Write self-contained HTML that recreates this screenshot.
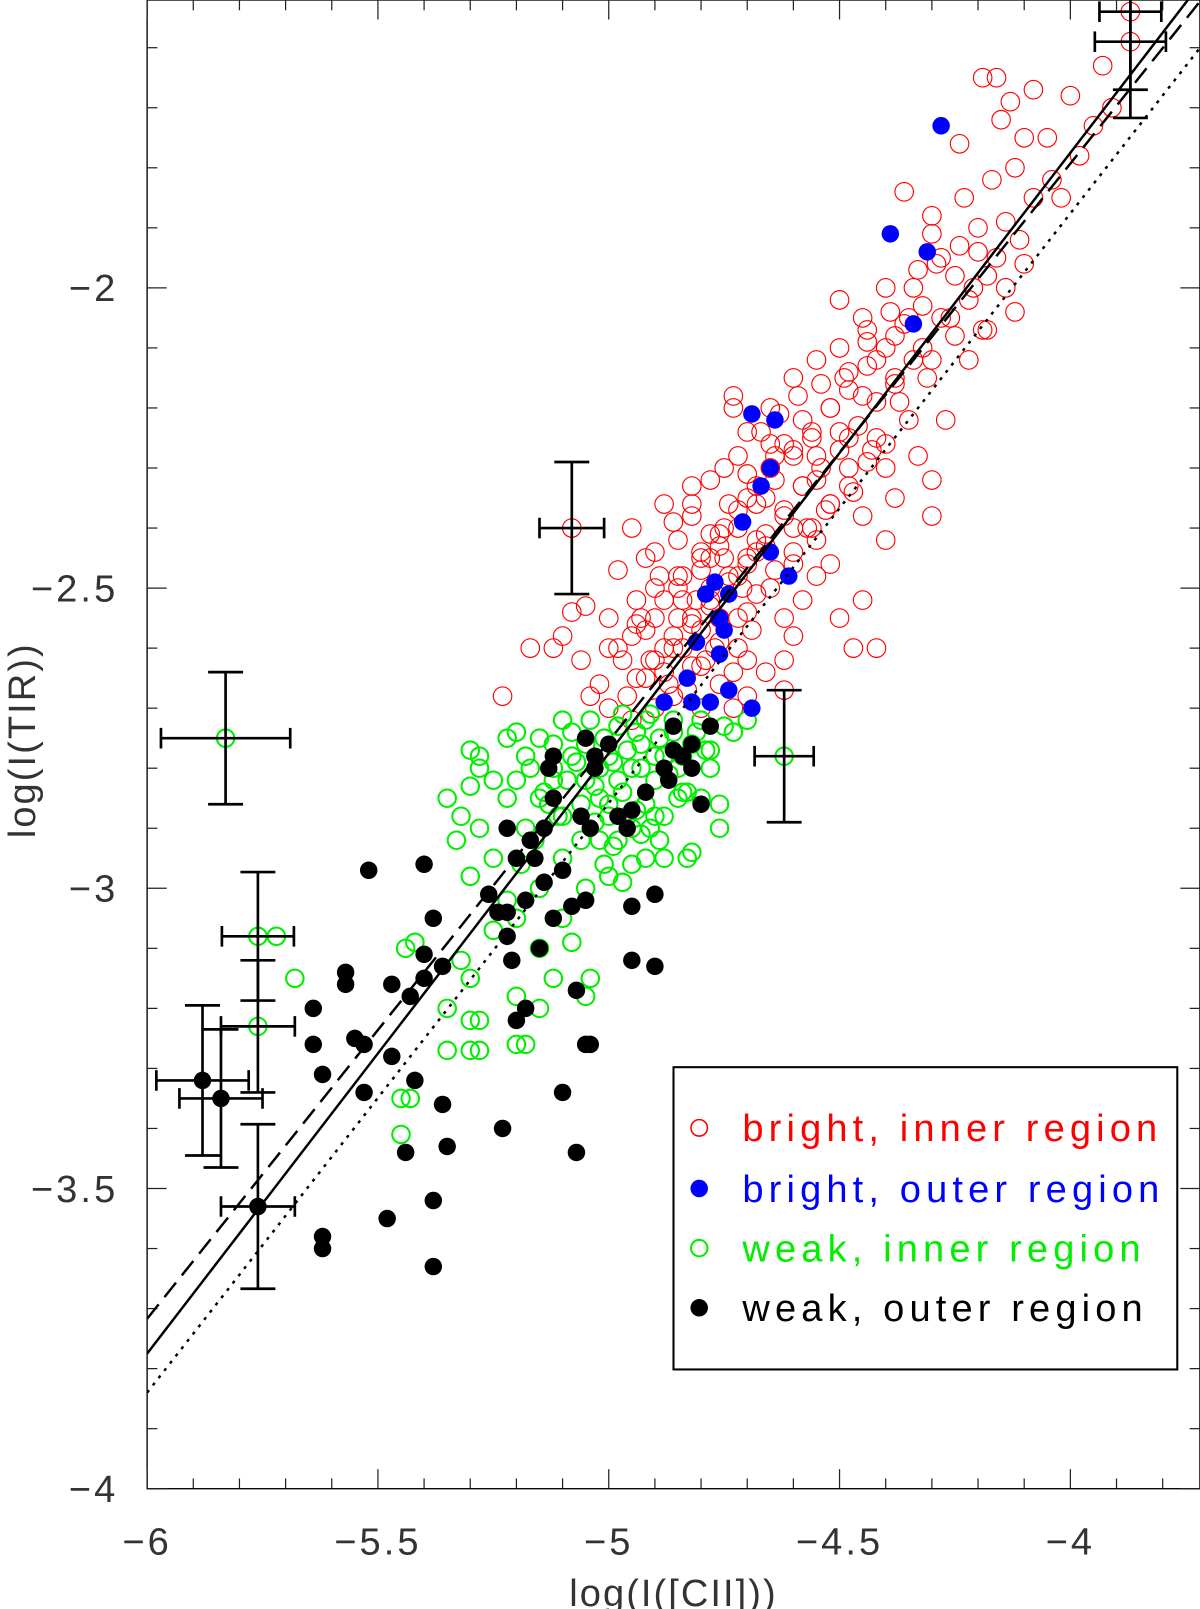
<!DOCTYPE html>
<html><head><meta charset="utf-8"><style>
html,body{margin:0;padding:0;background:#fff;}
svg{display:block;}
text{font-family:"Liberation Sans",sans-serif;font-weight:normal;}
</style></head><body>
<svg id="chart" width="1200" height="1609" viewBox="0 0 1167 1565" xmlns="http://www.w3.org/2000/svg">
<defs><clipPath id="plotclip"><rect x="143" y="0" width="1024" height="1448"/></clipPath></defs>
<rect x="143" y="0" width="1024" height="1448" fill="none" stroke="#000" stroke-width="1.3"/>
<g id="ticks"></g>
<g id="ticklabels" font-size="37" fill="#333" letter-spacing="3"></g>
<text x="655" y="1562" font-size="37" text-anchor="middle" fill="#333" letter-spacing="2">log(I([CII]))</text>
<text x="0" y="0" font-size="37" text-anchor="middle" fill="#333" letter-spacing="2" transform="translate(34,720) rotate(-90)">log(I(TIR))</text>
<g clip-path="url(#plotclip)">
<g id="marks"></g>
<g id="fits"></g>
<g id="errs"></g>
</g>
<g letter-spacing="5">
<rect x="655" y="1038" width="490" height="294" fill="#fff" stroke="#000" stroke-width="2"/>
<circle cx="680" cy="1097" r="8" fill="none" stroke="#f00" stroke-width="1.5"/>
<text x="722" y="1110" font-size="37" fill="#f00">bright, inner region</text>
<circle cx="680" cy="1156" r="8.5" fill="#00f"/>
<text x="722" y="1169" font-size="37" fill="#00f">bright, outer region</text>
<circle cx="680" cy="1214" r="8" fill="none" stroke="#0e0" stroke-width="2"/>
<text x="722" y="1227" font-size="37" fill="#0e0">weak, inner region</text>
<circle cx="680" cy="1272" r="8.5" fill="#000"/>
<text x="722" y="1285" font-size="37" fill="#000">weak, outer region</text>
</g>
</svg>
<script>
const xTicks=[-6,-5.5,-5,-4.5,-4];
const xTickLabels=["\u22126","\u22125.5","\u22125","\u22124.5","\u22124"];
const yTicks=[-2,-2.5,-3,-3.5,-4];
const yTickLabels=["\u22122","\u22122.5","\u22123","\u22123.5","\u22124"];
const redX=[-3.87,-3.87,-3.93,-3.91,-4.0,-4.08,-4.19,-4.16,-4.13,-4.05,-4.12,-4.17,-4.23,-4.3,-4.36,-4.2,-4.14,-4.1,-4.2,-4.25,-4.3,-4.22,-4.28,-4.33,-4.4,-4.45,-4.5,-4.38,-4.32,-4.25,-4.18,-4.12,-4.42,-4.48,-4.55,-4.6,-4.52,-4.45,-4.38,-4.3,-4.35,-4.42,-4.5,-4.58,-4.65,-4.7,-4.62,-4.55,-4.48,-4.4,-4.33,-4.3,-4.38,-4.45,-4.52,-4.58,-4.65,-4.72,-4.78,-4.7,-4.62,-4.55,-4.6,-4.68,-4.75,-4.82,-4.85,-4.78,-4.72,-4.65,-4.58,-4.5,-4.45,-4.52,-4.42,-4.6,-4.7,-4.78,-4.85,-4.92,-4.9,-4.85,-4.8,-4.72,-4.66,-4.62,-4.7,-4.76,-4.82,-4.88,-4.95,-5.0,-4.97,-4.92,-4.86,-4.8,-4.73,-4.9,-4.96,-5.02,-5.06,-5.1,-5.05,-5.04,-5.0,-4.95,-5.08,-5.12,-5.17,-5.23,-4.98,-4.95,-4.88,-4.82,-4.75,-4.73,-4.73,-4.65,-4.5,-4.44,-4.35,-4.28,-4.24,-4.15,-4.6,-4.55,-4.48,-4.68,-4.9,-4.8,-4.3,-4.4,-4.47,-4.55,-4.62,-4.27,-4.22,-4.18,-4.1,-4.02,-4.7,-5.0,-4.85,-4.76,-4.62,-4.94,-4.66,-5.08,
-4.84,-4.8,-4.76,-4.72,-4.68,-4.64,-4.6,-4.56,-4.52,-4.48,-4.44,-4.4,-4.36,-4.32,-4.86,-4.82,-4.78,-4.74,-4.7,-4.66,-4.62,-4.58,-4.54,-4.5,-4.46,-4.42,-4.38,-4.34,-4.88,-4.84,-4.8,-4.76,-4.72,-4.68,-4.64,-4.6,-4.56,-4.52,-4.48,-4.44,-4.4,-4.92,-4.88,-4.84,-4.8,-4.76,-4.72,-4.68,-4.64,-4.6,-4.56,-4.94,-4.9,-4.86,-4.82,-4.78,-4.74,-4.7,-4.66,-4.98,-4.94,-4.9,-4.86,-4.82,-4.78,-4.74,-4.7,-4.67,-4.63,-4.59,-4.54,-4.49,-4.44,-4.39,-4.34,-4.29,-4.24,-4.75,-4.71,-4.69,-4.79,-4.83,-4.87,-4.91,-4.93,-4.89,-4.81,-4.77,-4.73,-4.57,-4.53,-4.47,-4.43,-4.37,-4.31,-4.26,-4.21,-4.16,-4.08,-4.04,-3.98,-3.95,-4.11,-4.14,-4.19];
const redY=[-1.54,-1.59,-1.63,-1.7,-1.68,-1.67,-1.65,-1.65,-1.69,-1.75,-1.8,-1.82,-1.85,-1.88,-1.84,-1.9,-1.89,-1.96,-1.94,-1.98,-1.91,-2.02,-2.05,-1.97,-2.0,-2.05,-2.02,-2.08,-2.1,-2.08,-2.07,-2.04,-2.12,-2.14,-2.12,-2.15,-2.2,-2.18,-2.15,-2.12,-2.22,-2.25,-2.24,-2.22,-2.2,-2.24,-2.26,-2.28,-2.3,-2.3,-2.28,-2.32,-2.35,-2.38,-2.36,-2.33,-2.3,-2.28,-2.32,-2.35,-2.38,-2.42,-2.46,-2.42,-2.4,-2.38,-2.42,-2.45,-2.48,-2.5,-2.52,-2.55,-2.52,-2.46,-2.6,-2.58,-2.54,-2.5,-2.48,-2.45,-2.5,-2.55,-2.57,-2.6,-2.64,-2.67,-2.68,-2.66,-2.63,-2.6,-2.58,-2.55,-2.62,-2.65,-2.68,-2.7,-2.7,-2.7,-2.68,-2.66,-2.62,-2.58,-2.53,-2.68,-2.7,-2.72,-2.54,-2.6,-2.6,-2.68,-2.47,-2.4,-2.36,-2.33,-2.3,-2.18,-2.2,-2.26,-2.1,-2.07,-2.05,-1.95,-1.76,-1.72,-2.4,-2.32,-2.25,-2.44,-2.55,-2.45,-2.38,-2.42,-2.6,-2.48,-2.55,-2.22,-2.12,-1.98,-1.75,-1.85,-2.62,-2.6,-2.5,-2.55,-2.62,-2.52,-2.35,-2.4,
-2.52,-2.47,-2.43,-2.4,-2.36,-2.32,-2.28,-2.25,-2.2,-2.17,-2.13,-2.1,-2.06,-2.03,-2.6,-2.56,-2.52,-2.48,-2.45,-2.41,-2.37,-2.33,-2.3,-2.27,-2.23,-2.19,-2.16,-2.12,-2.64,-2.6,-2.63,-2.59,-2.55,-2.51,-2.47,-2.44,-2.4,-2.36,-2.33,-2.29,-2.26,-2.57,-2.52,-2.48,-2.44,-2.41,-2.37,-2.33,-2.28,-2.27,-2.24,-2.65,-2.62,-2.58,-2.55,-2.53,-2.49,-2.46,-2.43,-2.6,-2.56,-2.44,-2.39,-2.36,-2.41,-2.36,-2.31,-2.24,-2.21,-2.18,-2.16,-2.15,-2.09,-2.04,-2.0,-1.96,-1.93,-2.45,-2.5,-2.57,-2.62,-2.67,-2.66,-2.62,-2.55,-2.48,-2.52,-2.6,-2.64,-2.4,-2.37,-2.34,-2.27,-2.19,-2.15,-2.05,-2.0,-1.95,-1.85,-1.82,-1.78,-1.73,-1.92,-2.0,-2.07];
const blueX=[-4.28,-4.39,-4.31,-4.34,-4.64,-4.69,-4.65,-4.67,-4.71,-4.65,-4.61,-4.77,-4.79,-4.74,-4.76,-4.75,-4.81,-4.76,-4.74,-4.83,-4.82,-4.78,-4.69,-4.88];
const blueY=[-1.73,-1.91,-1.94,-2.06,-2.22,-2.21,-2.3,-2.33,-2.39,-2.44,-2.48,-2.49,-2.51,-2.51,-2.55,-2.57,-2.59,-2.61,-2.67,-2.65,-2.69,-2.69,-2.7,-2.69];
const greenX=[-5.72,-5.68,-5.44,-5.42,-5.45,-5.43,-5.45,-5.35,-5.3,-5.3,-5.28,-5.2,-5.18,-5.3,-5.32,-5.2,-5.15,-5.12,-5.05,-5.04,-5.15,-5.08,-5.1,-5.2,-5.25,-5.22,-5.15,-5.3,-5.32,-5.28,-5.33,-5.35,-5.3,-5.28,-5.2,-5.18,-5.22,-5.28,-5.3,-5.2,-5.15,-5.12,-5.15,-5.1,-5.12,-5.05,-5.02,-5.0,-4.98,-4.95,-5.06,-5.0,-5.05,-4.92,-4.88,-4.83,-4.82,-4.76,-4.76,-4.8,-4.85,-4.9,-4.95,-5.0,-5.05,-5.08,-5.1,-5.04,-4.98,-4.92,-4.86,-4.8,-4.75,-4.7,-4.82,-4.88,-4.93,-4.98,-5.02,-4.85,-4.78,-5.08,-5.12,-5.02,-4.95,-5.1,-5.18,-5.22,-5.25,-5.25,-4.88,-4.92,-5.35,-5.28,-5.83,-5.76,-5.76,-4.62,
-4.97,-4.94,-4.91,-4.89,-4.86,-4.84,-4.81,-4.79,-5.01,-4.99,-4.96,-4.93,-4.9,-4.87,-4.83,-5.07,-5.03,-5.0,-4.97,-4.94,-4.91,-5.06,-5.03,-4.99,-4.96,-4.93,-5.14,-5.11,-5.17,-4.73,-4.78,-4.84,-4.9,-5.09,-5.13,-5.16,-5.19,-5.01,-4.97,-4.89];
const greenY=[-3.08,-3.15,-3.1,-3.09,-3.35,-3.35,-3.41,-3.27,-3.22,-3.27,-3.27,-3.26,-3.26,-3.15,-3.12,-3.18,-3.2,-3.15,-3.18,-3.15,-3.1,-3.09,-3.05,-3.05,-3.07,-3.02,-3.0,-2.98,-2.88,-2.9,-2.92,-2.85,-2.83,-2.8,-2.82,-2.78,-2.75,-2.78,-2.77,-2.74,-2.75,-2.8,-2.85,-2.88,-2.82,-2.82,-2.85,-2.88,-2.92,-2.9,-2.92,-2.98,-3.0,-2.95,-2.95,-2.95,-2.94,-2.86,-2.9,-2.85,-2.85,-2.82,-2.8,-2.78,-2.76,-2.74,-2.72,-2.72,-2.73,-2.72,-2.72,-2.72,-2.73,-2.72,-2.76,-2.78,-2.76,-2.82,-2.8,-2.8,-2.8,-2.78,-2.76,-2.92,-2.96,-2.95,-2.9,-2.85,-2.95,-2.82,-2.88,-2.86,-3.2,-3.22,-2.75,-3.08,-3.23,-2.78,
-2.71,-2.74,-2.71,-2.75,-2.74,-2.78,-2.74,-2.77,-2.75,-2.79,-2.77,-2.8,-2.78,-2.81,-2.84,-2.79,-2.83,-2.86,-2.84,-2.87,-2.9,-2.86,-2.89,-2.93,-2.88,-2.91,-2.84,-2.88,-2.8,-2.74,-2.77,-2.84,-2.88,-2.82,-2.86,-2.92,-2.96,-2.96,-2.99,-2.92];
const blackX=[-5.88,-5.84,-5.76,-5.64,-5.64,-5.57,-5.57,-5.62,-5.62,-5.62,-5.53,-5.53,-5.55,-5.47,-5.48,-5.43,-5.42,-5.44,-5.47,-5.40,-5.40,-5.38,-5.36,-5.38,-5.38,-5.36,-5.35,-5.4,-5.52,-5.26,-5.22,-5.17,-5.16,-5.2,-5.24,-5.22,-5.22,-5.21,-5.18,-5.18,-5.14,-5.14,-5.12,-5.1,-5.12,-5.13,-5.12,-5.08,-5.05,-5.07,-5.06,-5.04,-5.05,-5.03,-5.03,-5.0,-4.96,-4.95,-4.9,-4.95,-4.9,-4.95,-4.92,-4.88,-4.86,-4.84,-4.82,-4.82,-4.86,-4.78,-4.8,-5.2,-5.23,-5.1,-5.05,-5.04,-5.07,-5.15,-4.98,-4.87];
const blackY=[-3.32,-3.35,-3.53,-3.2,-3.26,-3.14,-3.16,-3.31,-3.58,-3.6,-3.26,-3.34,-3.25,-3.16,-3.55,-3.18,-3.32,-3.44,-3.28,-3.11,-3.15,-3.05,-3.13,-3.52,-3.63,-3.36,-3.43,-2.96,-2.97,-3.01,-2.9,-2.92,-2.95,-2.95,-3.04,-3.04,-3.08,-3.12,-3.02,-3.2,-2.9,-2.99,-3.05,-2.97,-2.85,-2.8,-2.78,-3.03,-3.02,-3.17,-2.88,-2.9,-2.75,-2.78,-2.8,-2.76,-2.9,-3.03,-3.01,-3.12,-3.13,-2.87,-2.84,-2.8,-2.77,-2.78,-2.76,-2.8,-2.73,-2.73,-2.86,-3.22,-3.4,-3.34,-3.26,-3.26,-3.44,-3.1,-2.88,-2.82];
const errX=[-3.87,-3.87,-5.08,-5.83,-4.62,-5.76,-5.76,-5.88,-5.84,-5.76];
const errY=[-1.54,-1.59,-2.4,-2.75,-2.78,-3.08,-3.23,-3.32,-3.35,-3.53];
const errDX=[0.067,0.077,0.07,0.14,0.064,0.078,0.08,0.1,0.09,0.08];
const errDY=[0.13,0.127,0.11,0.11,0.11,0.107,0.11,0.125,0.115,0.137];
const fitSlope=[1.0,0.962,0.982];
const fitAt6=[-3.775,-3.717,-3.84];
const fitDash=["","18,9","3,6"];

const NS="http://www.w3.org/2000/svg";
function X(v){return 143+(v+6)*449;}
function Y(v){return 280-(v+2)*584;}
function mk(tag,attrs,parent){const e=document.createElementNS(NS,tag);for(const k in attrs)e.setAttribute(k,attrs[k]);parent.appendChild(e);return e;}
const ticks=document.getElementById('ticks');
for(let i=0;i<=22;i++){const v=-6+i*0.1;const major=(i%5===0);const px=X(v);const L=major?19:10;
 let t=mk('line',{x1:px,x2:px,y1:1448,y2:1448-L,stroke:'#222','stroke-width':1.2},ticks);
 
 
 t=mk('line',{x1:px,x2:px,y1:0,y2:L,stroke:'#222','stroke-width':1.2},ticks);
 
 }
for(let i=0;i<=25;i++){const v=-4+i*0.1;const major=(i%5===0);const py=Y(v);const L=major?19:10;
 let t=mk('line',{x1:143,x2:143+L,y1:py,y2:py,stroke:'#222','stroke-width':1.2},ticks);
 
 
 t=mk('line',{x1:1167,x2:1167-L,y1:py,y2:py,stroke:'#222','stroke-width':1.2},ticks);
 
 }
const tl=document.getElementById('ticklabels');
xTicks.forEach((v,i)=>{const t=mk('text',{x:X(v),y:1512,'text-anchor':'middle'},tl);t.textContent=xTickLabels[i];
 
 });
yTicks.forEach((v,i)=>{const t=mk('text',{x:115,y:Y(v)+13,'text-anchor':'end'},tl);t.textContent=yTickLabels[i];
 
 });
const marks=document.getElementById('marks');
redX.forEach((v,i)=>{const c=mk('circle',{cx:X(v),cy:Y(redY[i]),r:9,fill:'none',stroke:'#f00','stroke-width':1.1},marks);
 
 });
greenX.forEach((v,i)=>{const c=mk('circle',{cx:X(v),cy:Y(greenY[i]),r:8.5,fill:'none',stroke:'#0e0','stroke-width':2},marks);
 
 });
blueX.forEach((v,i)=>{const c=mk('circle',{cx:X(v),cy:Y(blueY[i]),r:8.5,fill:'#00f'},marks);
 
 });
blackX.forEach((v,i)=>{const c=mk('circle',{cx:X(v),cy:Y(blackY[i]),r:8.5,fill:'#000'},marks);
 
 });
const fits=document.getElementById('fits');
const fitNames=['fit-line-solid','fit-line-dashed','fit-line-dotted'];
fitSlope.forEach((s,i)=>{const x0=-6,x1=-3.5;const y0=fitAt6[i],y1=fitAt6[i]+s*(x1-x0);
 const l=mk('line',{x1:X(x0),y1:Y(y0),x2:X(x1),y2:Y(y1),stroke:'#000','stroke-width':2.4},fits);
 if(fitDash[i])l.setAttribute('stroke-dasharray',fitDash[i]);
 
 });
const errs=document.getElementById('errs');
errX.forEach((v,i)=>{const cx=X(v),cy=Y(errY[i]);const xl=X(v-errDX[i]),xr=X(v+errDX[i]);const yt=Y(errY[i]+errDY[i]),yb=Y(errY[i]-errDY[i]);
 const g=mk('g',{stroke:'#000','stroke-width':2.6,fill:'none'},errs);
 
 
 mk('line',{x1:xl,x2:xr,y1:cy,y2:cy},g);
 mk('line',{x1:xl,x2:xl,y1:cy-10,y2:cy+10},g);
 mk('line',{x1:xr,x2:xr,y1:cy-10,y2:cy+10},g);
 mk('line',{x1:cx,x2:cx,y1:yt,y2:yb},g);
 mk('line',{x1:cx-17,x2:cx+17,y1:yt,y2:yt},g);
 mk('line',{x1:cx-17,x2:cx+17,y1:yb,y2:yb},g);});
</script>
</body></html>
